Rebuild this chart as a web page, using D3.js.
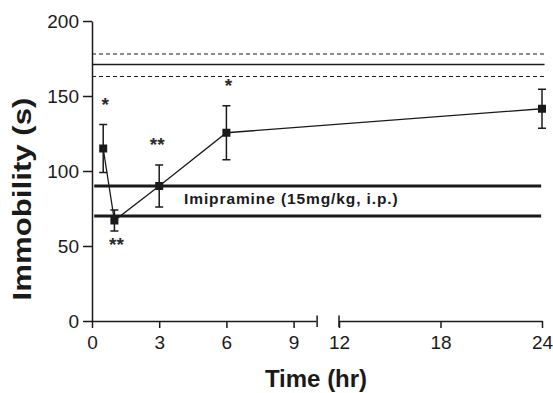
<!DOCTYPE html>
<html>
<head>
<meta charset="utf-8">
<script src="https://cdn.jsdelivr.net/npm/d3@7"></script>
<style>
  html, body { margin: 0; padding: 0; background: #fff; }
  svg { display: block; font-family: "Liberation Sans", Arial, sans-serif; }
</style>
</head>
<body>
<svg id="chart" width="553" height="393"></svg>
<script>
// ---- data ----
const times = [0.5, 1, 3, 6, 24];
const immobility = [115, 67, 90, 125.5, 141.5];
const sem = [16, 7, 14, 18, 13];
const significance = ["*", "**", "**", "*", ""];
const sigAbove = [true, false, true, true, true];

const controlMean = 171;
const controlBand = [163, 178];
const imipramineBand = [70, 90];
const imipramineLabel = "Imipramine (15mg/kg, i.p.)";

const yTicks = [0, 50, 100, 150, 200];
const xTicksLeft = [0, 3, 6, 9];
const xTicksRight = [12, 18, 24];
const xLabel = "Time (hr)";
const yLabel = "Immobility (s)";

// ---- scales ----
const svg = d3.select("#chart");
const ink = "#1a1a1a";
const y = d3.scaleLinear().domain([0, 200]).range([321, 21]);
const xA = d3.scaleLinear().domain([0, 10]).range([92, 316]);
const xB = d3.scaleLinear().domain([12, 24]).range([339, 542]);
const x = v => (v <= 11 ? xA(v) : xB(v));

// ---- reference lines ----
const refG = svg.append("g");
refG.append("line")
  .attr("x1", x(0)).attr("x2", xB(24.15))
  .attr("y1", y(controlMean)).attr("y2", y(controlMean))
  .attr("stroke", ink).attr("stroke-width", 1.3);
controlBand.forEach(v => {
  refG.append("line")
    .attr("x1", x(0)).attr("x2", xB(24.15))
    .attr("y1", y(v)).attr("y2", y(v))
    .attr("stroke", ink).attr("stroke-width", 1.2)
    .attr("stroke-dasharray", "4,3");
});
imipramineBand.forEach(v => {
  refG.append("line")
    .attr("x1", xA(0.1)).attr("x2", xB(23.95))
    .attr("y1", y(v)).attr("y2", y(v))
    .attr("stroke", ink).attr("stroke-width", 3);
});
refG.append("text")
  .attr("x", 184).attr("y", 204)
  .attr("font-size", 15.5).attr("font-weight", "bold")
  .attr("fill", ink).attr("letter-spacing", 0.9)
  .text(imipramineLabel);

// ---- axes ----
const yAxis = svg.append("g")
  .attr("transform", `translate(${x(0)},0)`)
  .call(d3.axisLeft(y).tickValues(yTicks).tickSize(9).tickPadding(4).tickSizeOuter(0));
const xAxisA = svg.append("g")
  .attr("transform", `translate(0,${y(0)})`)
  .call(d3.axisBottom(xA).tickValues(xTicksLeft).tickSize(7).tickPadding(8).tickSizeOuter(0));
const xAxisB = svg.append("g")
  .attr("transform", `translate(0,${y(0)})`)
  .call(d3.axisBottom(xB).tickValues(xTicksRight).tickSize(7).tickPadding(8).tickSizeOuter(0));
[yAxis, xAxisA, xAxisB].forEach(g => {
  g.selectAll("path, line").attr("stroke", ink).attr("stroke-width", 1.5);
  g.selectAll("text").attr("fill", ink).attr("font-size", 19)
    .attr("font-family", "Liberation Sans, Arial, sans-serif");
});
// break bars
[xA(10.05), xB(12)].forEach(px => {
  svg.append("line")
    .attr("x1", px).attr("x2", px)
    .attr("y1", y(0) - 5.5).attr("y2", y(0) + 6)
    .attr("stroke", ink).attr("stroke-width", 1.5);
});

// axis labels
svg.append("text")
  .attr("x", 316).attr("y", 387)
  .attr("text-anchor", "middle")
  .attr("font-size", 24).attr("font-weight", "bold").attr("fill", ink)
  .text(xLabel);
svg.append("text")
  .attr("transform", "translate(31,199) rotate(-90)")
  .attr("text-anchor", "middle")
  .attr("font-size", 25).attr("font-weight", "bold").attr("fill", ink)
  .attr("textLength", 203).attr("lengthAdjust", "spacingAndGlyphs")
  .text(yLabel);

// ---- data line ----
const pts = times.map((t, i) => ({ t, v: immobility[i], e: sem[i], s: significance[i], up: sigAbove[i] }));
svg.append("path")
  .datum(pts)
  .attr("fill", "none").attr("stroke", ink).attr("stroke-width", 1.3)
  .attr("d", d3.line().x(d => x(d.t)).y(d => y(d.v)));

// error bars
const eb = svg.append("g").attr("stroke", ink).attr("stroke-width", 1.5);
pts.forEach(d => {
  const cx = x(d.t);
  eb.append("line").attr("x1", cx).attr("x2", cx).attr("y1", y(d.v - d.e)).attr("y2", y(d.v + d.e));
  eb.append("line").attr("x1", cx - 4).attr("x2", cx + 4).attr("y1", y(d.v + d.e)).attr("y2", y(d.v + d.e));
  eb.append("line").attr("x1", cx - 4).attr("x2", cx + 4).attr("y1", y(d.v - d.e)).attr("y2", y(d.v - d.e));
});

// markers
svg.append("g").selectAll("rect").data(pts).join("rect")
  .attr("x", d => x(d.t) - 4).attr("y", d => y(d.v) - 4)
  .attr("width", 8).attr("height", 8).attr("fill", ink);

// significance
svg.append("g").selectAll("text").data(pts.filter(d => d.s)).join("text")
  .attr("x", d => x(d.t) + (d.s === "**" && d.up ? -2 : 2))
  .attr("y", d => d.up ? y(d.v + d.e) - 14 : y(d.v - d.e) + 20)
  .attr("text-anchor", "middle")
  .attr("font-size", 19).attr("font-weight", "bold").attr("fill", "#2a2a2a")
  .text(d => d.s);
</script>
</body>
</html>
